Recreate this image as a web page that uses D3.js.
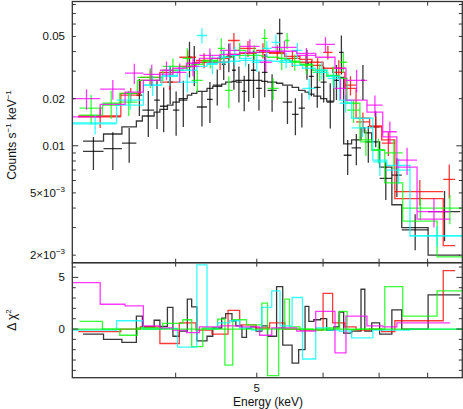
<!doctype html>
<html lang="en">
<head>
<meta charset="UTF-8">
<title>Spectrum and residuals</title>
<script src="https://d3js.org/d3.v7.min.js"></script>
<style>
  body { margin: 0; background: #fff; }
  text { font-family: "Liberation Sans", Arial, sans-serif; fill: #111; }
</style>
</head>
<body>
<script>
// ---- data (energy in keV, rate in counts/s/keV) ----
var blackEdges = [3.10, 3.28, 3.45, 3.59, 3.65, 3.77, 3.83, 3.91, 3.97, 4.04, 4.13, 4.18, 4.24, 4.36, 4.43, 4.54,
    4.59, 4.67, 4.72, 4.80, 4.86, 4.92, 4.99, 5.07, 5.15, 5.28, 5.37, 5.51, 5.61, 5.71, 5.77, 5.85, 5.96, 6.06,
    6.18, 6.27, 6.35, 6.49, 6.66, 6.73, 6.86, 7.01, 7.25, 7.45, 8.01, 8.75];
var blackRate = [0.0092, 0.0096, 0.0104, 0.0211, 0.0169, 0.0196, 0.0179, 0.0255, 0.0169, 0.0196,
    0.0368, 0.0337, 0.0177, 0.0198, 0.0244, 0.0332, 0.0373, 0.0304, 0.0255, 0.0223,
    0.0262, 0.0304, 0.0233, 0.0295, 0.0226, 0.0522, 0.0190, 0.0159, 0.0174, 0.0337,
    0.0278, 0.0236, 0.0255, 0.0190, 0.0262, 0.0396, 0.0087, 0.0097, 0.0262, 0.0106,
    0.0132, 0.0062, 0.0065, 0.0029, 0.0038];
var blackErr = [0.0022, 0.0026, 0.0026, 0.0056, 0.0055, 0.0068, 0.0057, 0.0070, 0.0053, 0.0064,
    0.0095, 0.0097, 0.0044, 0.0058, 0.0063, 0.0069, 0.0078, 0.0076, 0.0066, 0.0057,
    0.0071, 0.0102, 0.0065, 0.0091, 0.0061, 0.0127, 0.0052, 0.0042, 0.0043, 0.0073,
    0.0071, 0.0061, 0.0066, 0.0061, 0.0066, 0.0110, 0.0022, 0.0022, 0.0066, 0.0028,
    0.0034, 0.0017, 0.0018, 0.00075, 0.00135];
var blackModel = [0.0107, 0.0119, 0.0132, 0.0144, 0.0155, 0.0164, 0.0171, 0.0182, 0.0190, 0.0200,
    0.0211, 0.0216, 0.0223, 0.0233, 0.0240, 0.0248, 0.0255, 0.0258, 0.0262, 0.0262,
    0.0262, 0.0262, 0.0262, 0.0258, 0.0255, 0.0251, 0.0244, 0.0236, 0.0226, 0.0220,
    0.0214, 0.0208, 0.0200, 0.0193, 0.0278, 0.0274, 0.0103, 0.0109, 0.0130, 0.0121,
    0.0106, 0.0073, 0.0042, 0.0030, 0.0020];
var blackChi = [-0.5, -1.0, -1.3, 1.25, 0.2, 0.85, 0.25, 2.1, -0.7, -0.2,
    2.9, 2.15, -1.15, -0.7, 0.1, 1.05, 1.5, 0.8, 0.3, -0.8,
    0.07, 0.2, -0.2, 0.3, -0.7, 4.1, -1.55, -3.3, -2.0, 2.2,
    0.75, 0.9, 1.0, -0.1, 0.2, 1.65, -0.4, -0.2, 3.85, -0.2,
    0.6, -0.5, 1.85, 0.0, 3.3];

var redEdges = [3.06, 3.44, 3.63, 3.83, 4.04, 4.23, 4.42, 4.62, 4.77, 4.99, 5.18, 5.40, 5.63, 5.82, 6.00,
    6.16, 6.37, 6.57, 6.82, 7.05, 7.31, 8.35, 8.63];
var redRate = [0.0153, 0.0211, 0.0274, 0.0255, 0.0368, 0.0352, 0.0342, 0.0471, 0.0419, 0.0407, 0.0396,
    0.0362, 0.0342, 0.0327, 0.0396, 0.0313, 0.0244, 0.0142, 0.0132, 0.0104, 0.0051, 0.0061];
var redErr = [0.0023, 0.0023, 0.0032, 0.0028, 0.0040, 0.0039, 0.0037, 0.0055, 0.0049, 0.0045, 0.0043,
    0.0043, 0.0040, 0.0036, 0.0040, 0.0039, 0.0034, 0.0021, 0.0021, 0.0018, 0.00095, 0.0015];
var redModel = [0.0155, 0.0216, 0.0262, 0.0295, 0.0322, 0.0342, 0.0362, 0.0384, 0.0390, 0.0396, 0.0390,
    0.0373, 0.0357, 0.0342, 0.0313, 0.0295, 0.0233, 0.0150, 0.0134, 0.0109, 0.0046, 0.0023];
var redChi = [-0.25, 0.0, 0.2, -1.4, 0.6, -0.1, -0.5, 1.8, 0.4, 0.1, 0.6,
    0.0, -0.1, -0.1, 3.45, 0.6, 0.2, -0.1, 0.0, -0.25, 0.8, 5.65];

var greenEdges = [3.07, 3.27, 3.43, 3.60, 3.86, 4.08, 4.18, 4.31, 4.49, 4.58, 4.68, 4.86, 5.07, 5.15,
    5.31, 5.40, 5.47, 5.63, 5.83, 6.06, 6.28, 6.41, 6.64, 6.86, 7.11, 7.47, 8.21, 8.80];
var greenRate = [0.0174, 0.0187, 0.0190, 0.0274, 0.0322, 0.0362, 0.0262, 0.0352, 0.0419, 0.0226,
    0.0407, 0.0396, 0.0486, 0.0233, 0.0362, 0.0471, 0.0342, 0.0327, 0.0295, 0.0282,
    0.0342, 0.0169, 0.0106, 0.0094, 0.0090, 0.0040, 0.0040];
var greenErr = [0.0037, 0.0038, 0.0035, 0.0040, 0.0040, 0.0058, 0.0042, 0.0040, 0.0067, 0.0052,
    0.0048, 0.0043, 0.0071, 0.0037, 0.0058, 0.0055, 0.0040, 0.0041, 0.0037, 0.0039,
    0.0050, 0.0029, 0.0020, 0.0017, 0.0019, 0.00065, 0.00085];
var greenModel = [0.0157, 0.0182, 0.0216, 0.0262, 0.0304, 0.0318, 0.0332, 0.0347, 0.0362, 0.0368,
    0.0378, 0.0378, 0.0373, 0.0368, 0.0362, 0.0357, 0.0347, 0.0332, 0.0304, 0.0278,
    0.0270, 0.0187, 0.0109, 0.0094, 0.0058, 0.0033, 0.00195];
var greenChi = [0.75, 0.0, -0.6, 0.1, 0.55, 0.9, -1.7, 0.1, 0.95, -3.5,
    0.9, 0.4, 2.5, -4.5, 0.1, 2.9, 0.2, 0.0, -0.1, 0.1,
    1.7, -0.05, 0.0, 0.0, 4.1, 1.25, 3.7];

var cyanEdges = [3.01, 3.40, 3.66, 3.85, 4.02, 4.24, 4.36, 4.49, 4.64, 4.77, 4.93, 5.07, 5.21, 5.33,
    5.51, 5.67, 5.88, 6.08, 6.28, 6.49, 6.88, 7.15, 7.62, 8.80];
var cyanRate = [0.0138, 0.0196, 0.0244, 0.0282, 0.0255, 0.0507, 0.0332, 0.0368, 0.0378, 0.0362, 0.0342,
    0.0419, 0.0458, 0.0352, 0.0407, 0.0233, 0.0304, 0.0270, 0.0187, 0.0130, 0.0079, 0.0070, 0.00266];
var cyanErr = [0.0020, 0.0026, 0.0036, 0.0042, 0.0036, 0.0056, 0.0045, 0.0040, 0.0050, 0.0042, 0.0046,
    0.0049, 0.0054, 0.0040, 0.0048, 0.0035, 0.0040, 0.0036, 0.0024, 0.0016, 0.0015, 0.0013, 0.0004];
var cyanModel = [0.0140, 0.0182, 0.0244, 0.0278, 0.0304, 0.0322, 0.0337, 0.0342, 0.0347, 0.0352, 0.0352,
    0.0352, 0.0347, 0.0342, 0.0327, 0.0313, 0.0295, 0.0278, 0.0196, 0.0150, 0.0081, 0.0075, 0.00266];
var cyanChi = [-0.1, 0.8, 0.0, 0.05, -1.75, 6.2, 0.0, 0.6, 0.8, 0.1, -0.1,
    2.1, 3.7, 0.3, 3.05, -2.9, 0.1, -0.1, -0.2, -0.85, -0.1, -0.1, 0.0];

var magentaEdges = [3.01, 3.25, 3.48, 3.66, 3.83, 3.97, 4.12, 4.27, 4.52, 4.77, 5.04, 5.21, 5.58, 5.88,
    6.20, 6.39, 6.77, 7.07, 7.35, 7.77, 8.51];
var magentaRate = [0.0200, 0.0230, 0.0291, 0.0286, 0.0304, 0.0295, 0.0322, 0.0378, 0.0407, 0.0432,
    0.0342, 0.0425, 0.0378, 0.0445, 0.0233, 0.0262, 0.0182, 0.0123, 0.0081, 0.0038];
var magentaErr = [0.0030, 0.0033, 0.0043, 0.0044, 0.0042, 0.0041, 0.0044, 0.0040, 0.0045, 0.0048,
    0.0046, 0.0045, 0.0043, 0.0050, 0.0035, 0.0043, 0.0028, 0.0020, 0.0016, 0.0008];
var magentaModel = [0.0153, 0.0184, 0.0220, 0.0262, 0.0287, 0.0313, 0.0337, 0.0362, 0.0384, 0.0396,
    0.0402, 0.0402, 0.0390, 0.0368, 0.0313, 0.0196, 0.0164, 0.0114, 0.0073, 0.0034];
var magentaChi = [4.5, 2.4, 2.25, 0.3, 0.1, -0.1, -0.35, 0.2, 0.3, 0.2,
    -0.6, 0.1, -0.2, 1.7, -2.3, 1.25, 0.3, 0.2, 0.6, 0.6];

var xTickValues = [4, 5, 6, 7, 8];
var xLabelValues = [5];
var rateLabelValues = [0.05, 0.02, 0.01, 0.005, 0.002];
var chiLabelValues = [5, 0];

var groups = [
    {color: "#000000", edges: blackEdges, rate: blackRate, err: blackErr, model: blackModel, chi: blackChi},
    {color: "#ff0000", edges: redEdges, rate: redRate, err: redErr, model: redModel, chi: redChi},
    {color: "#00ff00", edges: greenEdges, rate: greenRate, err: greenErr, model: greenModel, chi: greenChi},
    {color: "#00ffff", edges: cyanEdges, rate: cyanRate, err: cyanErr, model: cyanModel, chi: cyanChi},
    {color: "#ff00ff", edges: magentaEdges, rate: magentaRate, err: magentaErr, model: magentaModel, chi: magentaChi}
];

// ---- layout ----
var width = 463, height = 409;
var plotL = 72.3, plotR = 462.3, topY = 1.5, midY = 262.7, botY = 377.7;

var x = d3.scaleLog().domain([3.01, 8.80]).range([plotL, plotR]);
var yTop = d3.scaleLog().domain([0.0836, 0.00179]).range([topY, midY]);
var yRes = d3.scaleLinear().domain([6.42, -4.71]).range([midY, botY]);

var svg = d3.select("body").append("svg")
    .attr("width", width)
    .attr("height", height);

svg.append("rect").attr("width", width).attr("height", height).attr("fill", "#fff");

var defs = svg.append("defs");
defs.append("clipPath").attr("id", "clipTop")
    .append("rect").attr("x", plotL).attr("y", topY).attr("width", plotR - plotL).attr("height", midY - topY);
defs.append("clipPath").attr("id", "clipRes")
    .append("rect").attr("x", plotL).attr("y", midY).attr("width", plotR - plotL).attr("height", botY - midY);

var gTop = svg.append("g").attr("clip-path", "url(#clipTop)");
var gRes = svg.append("g").attr("clip-path", "url(#clipRes)");

var step = d3.line()
    .x(function(d) { return x(d[0]); })
    .curve(d3.curveStepAfter);

groups.forEach(function(s) {
    var n = s.rate.length;
    var g = gTop.append("g")
        .attr("stroke", s.color)
        .attr("stroke-opacity", 0.78)
        .attr("stroke-width", 1.3)
        .attr("fill", "none");

    // data crosses
    for (var i = 0; i < n; i++) {
        var lo = s.edges[i], hi = s.edges[i + 1], c = (lo + hi) / 2;
        g.append("line")
            .attr("x1", x(lo)).attr("x2", x(hi))
            .attr("y1", yTop(s.rate[i])).attr("y2", yTop(s.rate[i]));
        g.append("line")
            .attr("x1", x(c)).attr("x2", x(c))
            .attr("y1", yTop(s.rate[i] + s.err[i]))
            .attr("y2", yTop(Math.max(s.rate[i] - s.err[i], 0.0005)));
    }

    // folded model histogram
    var pts = s.model.map(function(m, i) { return [s.edges[i], m]; });
    pts.push([s.edges[n], s.model[n - 1]]);
    g.append("path")
        .attr("d", step.y(function(d) { return yTop(d[1]); })(pts));

    // residuals
    var rp = s.chi.map(function(v, i) { return [s.edges[i], v]; });
    rp.push([s.edges[n], s.chi[n - 1]]);
    gRes.append("path")
        .attr("fill", "none")
        .attr("stroke", s.color)
        .attr("stroke-opacity", 0.78)
        .attr("stroke-width", 1.3)
        .attr("d", step.y(function(d) { return yRes(d[1]); })(rp));
});

// zero line of the residual panel
gRes.append("line")
    .attr("x1", plotL).attr("x2", plotR)
    .attr("y1", yRes(0)).attr("y2", yRes(0))
    .attr("stroke", "#00ff00").attr("stroke-opacity", 0.8).attr("stroke-width", 1.3);

// ---- frames and ticks ----
var axisColor = "#333";
var frame = svg.append("g").attr("fill", "none").attr("stroke", axisColor).attr("stroke-width", 1.3);
frame.append("rect").attr("x", plotL).attr("y", topY).attr("width", plotR - plotL).attr("height", midY - topY);
frame.append("rect").attr("x", plotL).attr("y", midY).attr("width", plotR - plotL).attr("height", botY - midY);

var ticks = svg.append("g").attr("stroke", axisColor).attr("stroke-width", 1);

function hTick(yv, len) {
    ticks.append("line").attr("x1", plotL).attr("x2", plotL + len).attr("y1", yv).attr("y2", yv);
    ticks.append("line").attr("x1", plotR).attr("x2", plotR - len).attr("y1", yv).attr("y2", yv);
}

// log ticks for the rate axis
[0.001, 0.01, 0.1].forEach(function(dec) {
    for (var m = 1; m <= 9; m++) {
        var v = dec * m;
        if (v < 0.00179 || v > 0.0836) continue;
        hTick(yTop(v), m === 1 ? 6 : 3.5);
    }
});

// residual ticks
d3.range(-4, 7).forEach(function(v) {
    hTick(yRes(v), (v === 0 || v === 5) ? 6 : 3.5);
});

// energy ticks on both panels
xTickValues.forEach(function(e) {
    var xv = x(e);
    [[topY, 4], [midY, -4], [midY, 4], [botY, -5]].forEach(function(t) {
        ticks.append("line").attr("x1", xv).attr("x2", xv).attr("y1", t[0]).attr("y2", t[0] + t[1]);
    });
});

// ---- labels ----
var labels = svg.append("g").attr("font-size", 11.5);

rateLabelValues.forEach(function(v) {
    var t = labels.append("text")
        .attr("x", 65)
        .attr("y", yTop(v) + 4)
        .attr("text-anchor", "end");
    if (v >= 0.01) {
        t.text(d3.format(".2f")(v));
    } else {
        var mant = Math.round(v / 0.001);
        t.append("tspan").text(mant + "\u00d710");
        t.append("tspan").attr("dy", -5).attr("font-size", 8).text("\u22123");
    }
});

chiLabelValues.forEach(function(v) {
    labels.append("text")
        .attr("x", 65)
        .attr("y", yRes(v) + 4)
        .attr("text-anchor", "end")
        .text(v);
});

xLabelValues.forEach(function(e) {
    labels.append("text")
        .attr("x", x(e))
        .attr("y", 392)
        .attr("text-anchor", "middle")
        .text(e);
});

labels.append("text")
    .attr("x", 268)
    .attr("y", 406)
    .attr("text-anchor", "middle")
    .attr("font-size", 12)
    .text("Energy (keV)");

var yl = labels.append("text")
    .attr("transform", "translate(16,135) rotate(-90)")
    .attr("text-anchor", "middle")
    .attr("font-size", 12);
yl.append("tspan").text("Counts s");
yl.append("tspan").attr("dy", -5).attr("font-size", 8).text("\u22121");
yl.append("tspan").attr("dy", 5).text(" keV");
yl.append("tspan").attr("dy", -5).attr("font-size", 8).text("\u22121");

var cl = labels.append("text")
    .attr("transform", "translate(16,320) rotate(-90)")
    .attr("text-anchor", "middle")
    .attr("font-size", 12);
cl.append("tspan").text("\u0394 \u03c7");
cl.append("tspan").attr("dy", -5).attr("font-size", 8).text("2");
</script>
</body>
</html>
